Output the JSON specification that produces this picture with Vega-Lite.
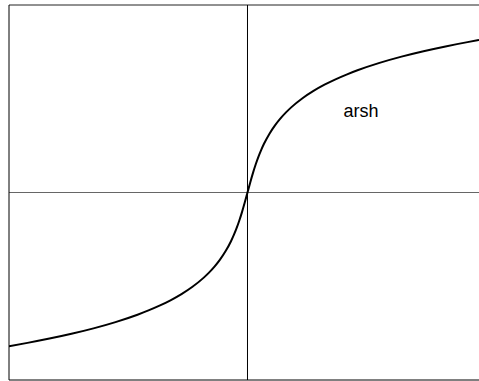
{
  "$schema": "https://vega.github.io/schema/vega-lite/v6.json",
  "autosize": "none",
  "padding": {"left": 9, "top": 5, "right": 0, "bottom": 1},
  "width": 470,
  "height": 375,
  "view": {"stroke": null, "fill": null},
  "config": {"view": {"stroke": null}},
  "data": {"values": [
    {"x": -21.68, "y": -3.770}, {"x": -20, "y": -3.6895}, {"x": -18, "y": -3.5843}, {"x": -16, "y": -3.4667},
    {"x": -14, "y": -3.3335}, {"x": -12, "y": -3.1798}, {"x": -10, "y": -2.9982}, {"x": -9, "y": -2.8934},
    {"x": -8, "y": -2.7765}, {"x": -7, "y": -2.6441}, {"x": -6, "y": -2.4918}, {"x": -5, "y": -2.3124},
    {"x": -4, "y": -2.0947}, {"x": -3.5, "y": -1.9657}, {"x": -3, "y": -1.8184}, {"x": -2.5, "y": -1.6472},
    {"x": -2, "y": -1.4436}, {"x": -1.5, "y": -1.1948}, {"x": -1.25, "y": -1.0476}, {"x": -1, "y": -0.8814},
    {"x": -0.75, "y": -0.6931}, {"x": -0.5, "y": -0.4812}, {"x": -0.25, "y": -0.2475}, {"x": 0, "y": 0},
    {"x": 0.25, "y": 0.2475}, {"x": 0.5, "y": 0.4812}, {"x": 0.75, "y": 0.6931}, {"x": 1, "y": 0.8814},
    {"x": 1.25, "y": 1.0476}, {"x": 1.5, "y": 1.1948}, {"x": 2, "y": 1.4436}, {"x": 2.5, "y": 1.6472},
    {"x": 3, "y": 1.8184}, {"x": 3.5, "y": 1.9657}, {"x": 4, "y": 2.0947}, {"x": 5, "y": 2.3124},
    {"x": 6, "y": 2.4918}, {"x": 7, "y": 2.6441}, {"x": 8, "y": 2.7765}, {"x": 9, "y": 2.8934},
    {"x": 10, "y": 2.9982}, {"x": 12, "y": 3.1798}, {"x": 14, "y": 3.3335}, {"x": 16, "y": 3.4667},
    {"x": 18, "y": 3.5843}, {"x": 20, "y": 3.6895}, {"x": 21.045, "y": 3.7403}
  ]},
  "layer": [
    {
      "data": {"values": [{"v": 0, "c": "h0"}, {"v": 4.6, "c": "top"}, {"v": -4.6, "c": "bottom"}]},
      "mark": {"type": "rule", "strokeWidth": 1},
      "encoding": {
        "y": {"field": "v", "type": "quantitative", "scale": {"domain": [-4.6, 4.6], "nice": false, "zero": false}, "axis": null},
        "color": {"field": "c", "type": "nominal", "scale": {"domain": ["h0", "top", "bottom"], "range": ["#666", "#222", "#000"]}, "legend": null}
      }
    },
    {
      "data": {"values": [{"v": 0}]},
      "mark": {"type": "rule", "color": "#000", "strokeWidth": 1},
      "encoding": {"x": {"field": "v", "type": "quantitative", "scale": {"domain": [-21.68, 21.045], "nice": false, "zero": false}, "axis": null}}
    },
    {
      "data": {"values": [{"v": -21.68}]},
      "mark": {"type": "rule", "color": "#000", "strokeWidth": 1},
      "encoding": {"x": {"field": "v", "type": "quantitative", "axis": null}}
    },
    {
      "mark": {"type": "line", "color": "#000", "strokeWidth": 2, "interpolate": "monotone", "clip": true},
      "encoding": {
        "x": {"field": "x", "type": "quantitative", "scale": {"domain": [-21.68, 21.045], "nice": false, "zero": false}, "axis": null},
        "y": {"field": "y", "type": "quantitative", "scale": {"domain": [-4.6, 4.6], "nice": false, "zero": false}, "axis": null}
      }
    },
    {
      "data": {"values": [{"x": 10.32, "y": 1.86, "label": "arsh"}]},
      "mark": {"type": "text", "font": "Liberation Sans", "fontSize": 18, "color": "#000", "align": "center", "baseline": "alphabetic"},
      "encoding": {
        "x": {"field": "x", "type": "quantitative", "axis": null},
        "y": {"field": "y", "type": "quantitative", "axis": null},
        "text": {"field": "label"}
      }
    }
  ]
}
